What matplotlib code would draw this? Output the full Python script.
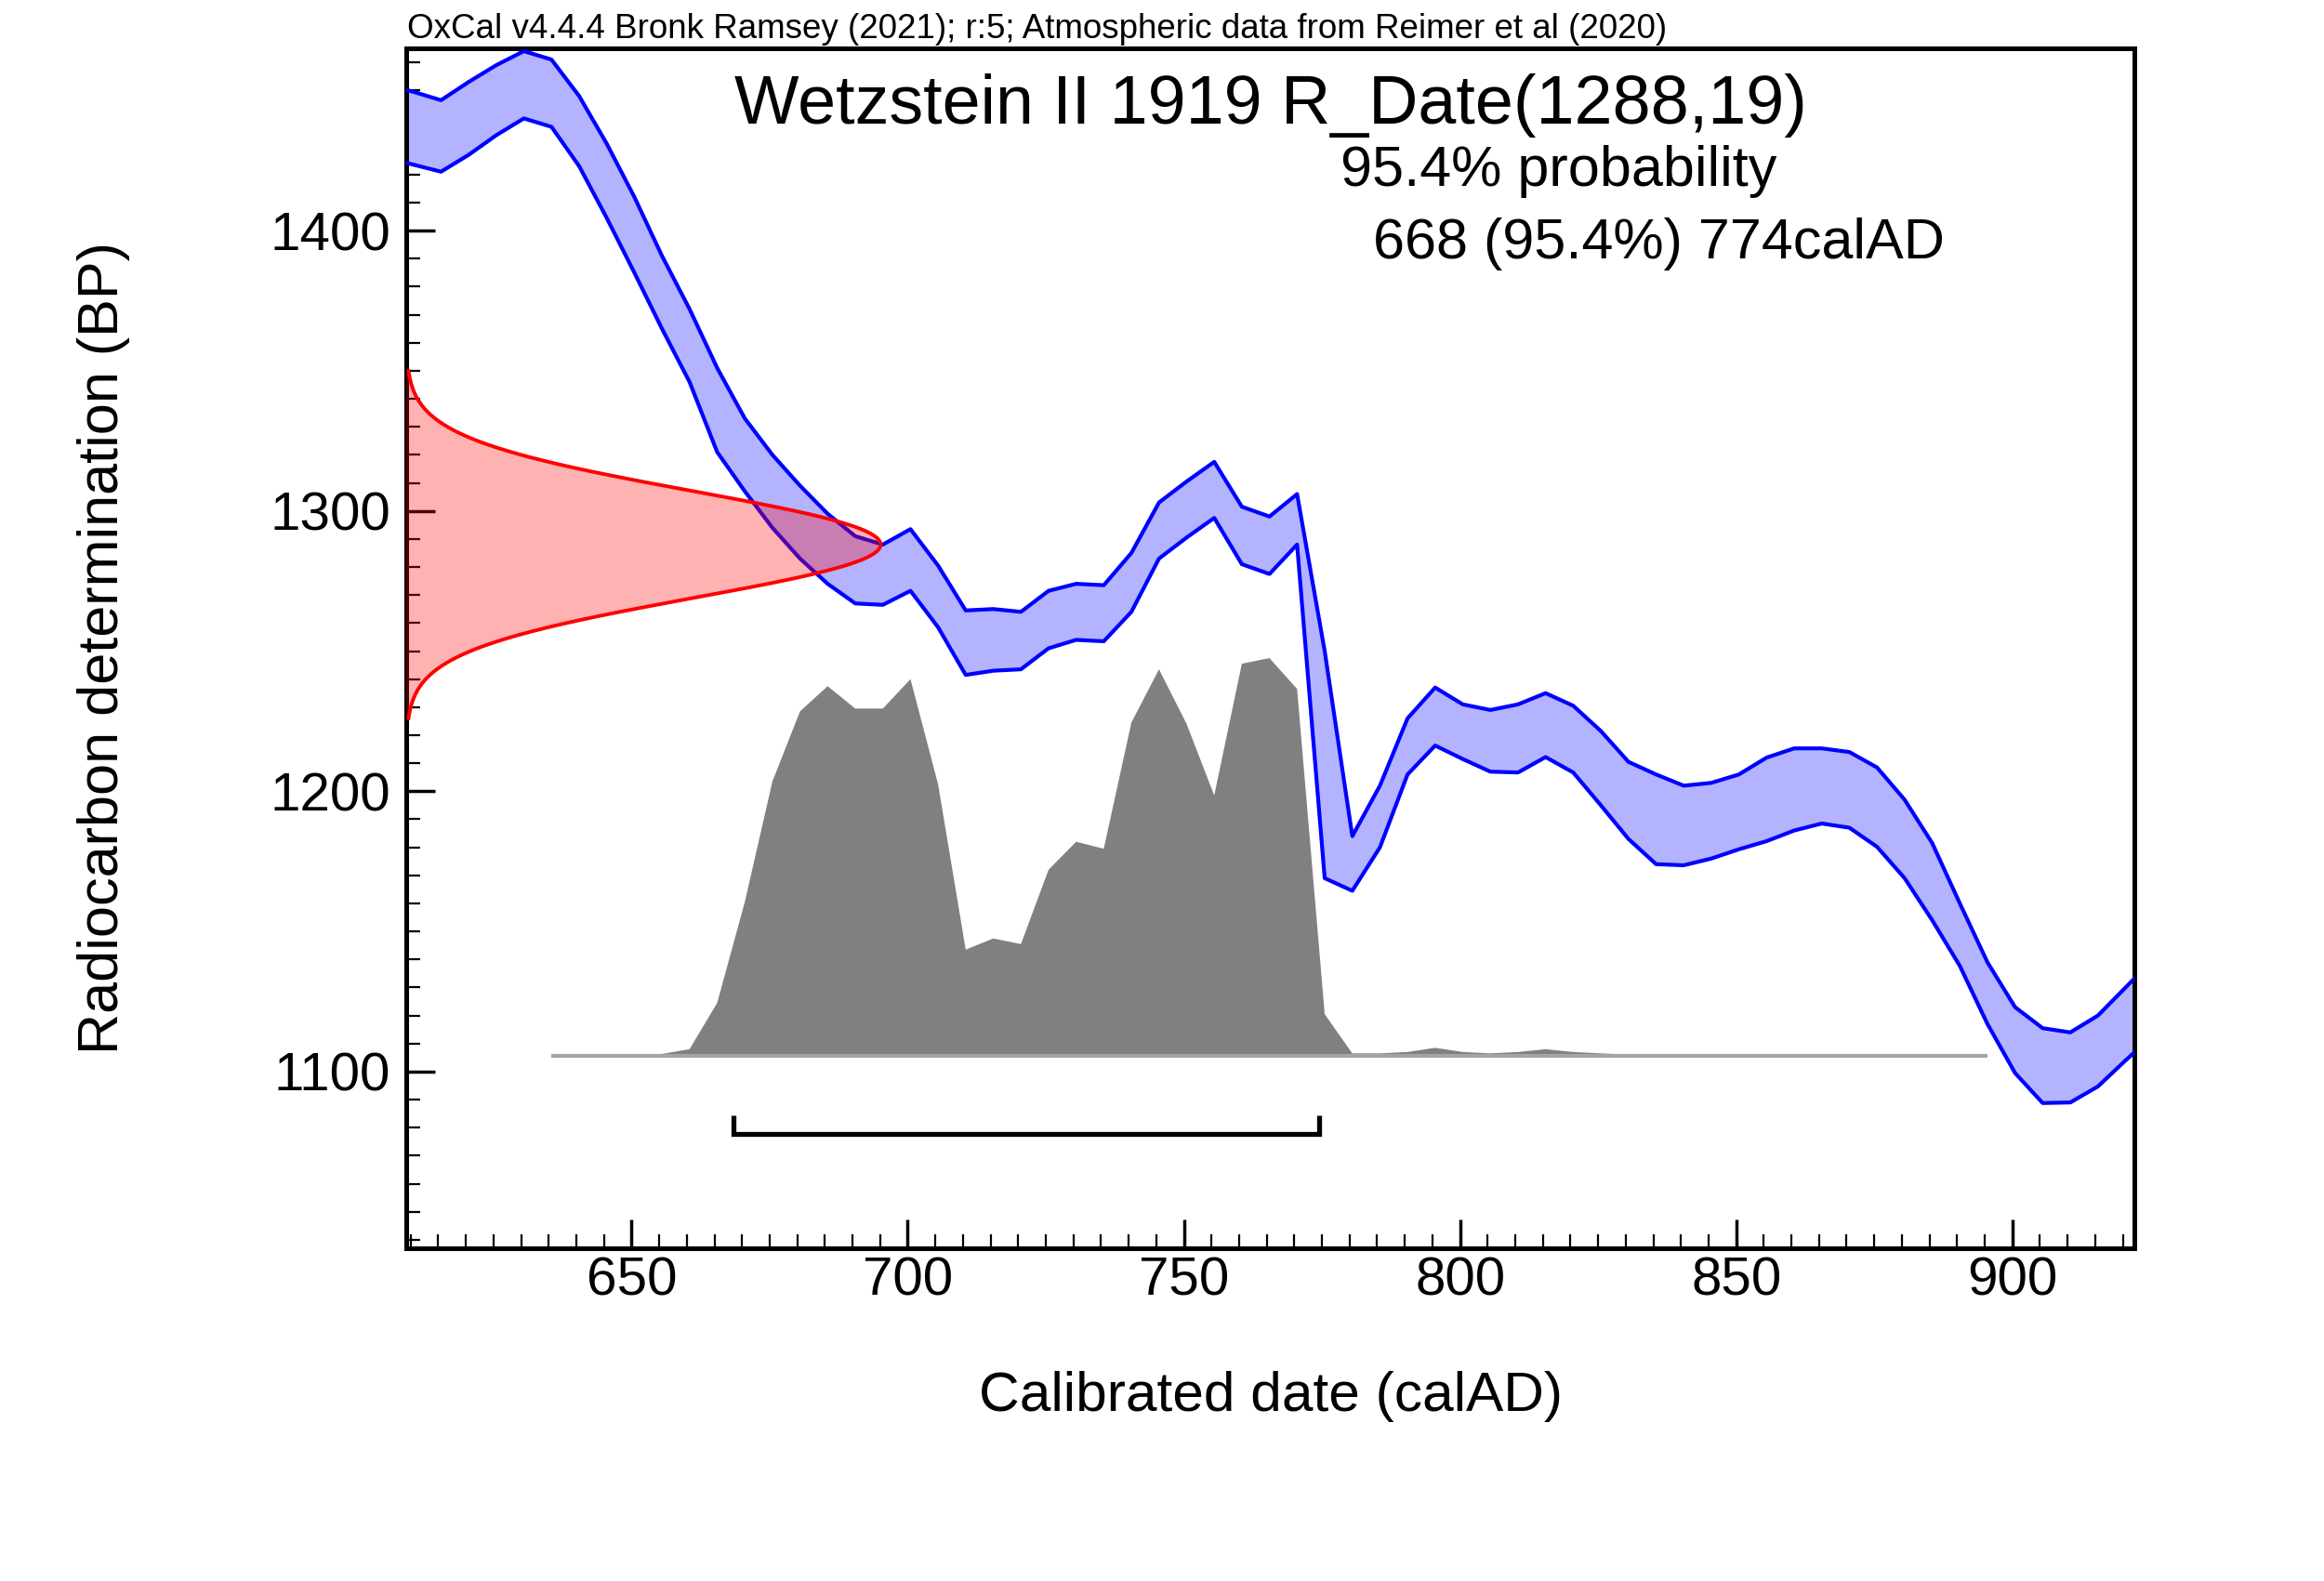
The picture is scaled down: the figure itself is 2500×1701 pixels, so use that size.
import numpy as np
import matplotlib
matplotlib.use("Agg")
import matplotlib.pyplot as plt
from matplotlib.ticker import MultipleLocator

plt.rcParams['font.family'] = ['Liberation Sans', 'DejaVu Sans']

# ---------------- data ----------------
# calibration curve nodes (calAD) and the +/- 1 sigma envelope (BP)
cal_years = np.arange(605.5, 926, 5)
curve_upper = [1452, 1449.5, 1446.5, 1453, 1459, 1464, 1461, 1448, 1431, 1412,
               1391, 1372, 1351, 1333, 1320, 1309, 1299, 1291, 1288, 1293.5,
               1280.5, 1264.5, 1265, 1264, 1271.5, 1274, 1273.5, 1285, 1303, 1310.5,
               1317.5, 1301.5, 1298, 1306, 1250, 1184, 1202, 1226, 1237, 1231,
               1229, 1231, 1235, 1230.5, 1221.5, 1210.5, 1206, 1202, 1203, 1206,
               1212, 1215.3, 1215.3, 1214, 1208.5, 1197, 1181.5, 1160, 1139, 1123,
               1115.5, 1114, 1120, 1130, 1140]
curve_lower = [1426, 1423.5, 1421, 1427, 1434, 1440, 1437, 1423, 1404.5, 1385,
               1365, 1346, 1321, 1307, 1294, 1283, 1274, 1267, 1266.5, 1271.5,
               1258.5, 1241.5, 1243, 1243.5, 1251, 1254, 1253.5, 1264, 1283, 1290.5,
               1297.5, 1281, 1277.5, 1288, 1169, 1164.5, 1180, 1206, 1216.3, 1211.5,
               1207, 1206.7, 1212.2, 1206.7, 1195, 1183, 1174, 1173.6, 1176, 1179.3,
               1182.2, 1186, 1188.5, 1187, 1180.2, 1169, 1154, 1137.7, 1117, 1099.5,
               1088.8, 1089, 1094.7, 1104, 1113]

# calibrated probability distribution (relative)
prob_years = np.arange(635.5, 896, 5)
prob_rel = [0, 0, 0.2, 0.4, 0.8, 2.5, 19, 55, 98, 123,
            132, 124, 124, 134.5, 97, 38, 42, 40, 66.5, 76.5,
            74, 119, 138, 118.5, 93, 140, 142, 131, 15, 1,
            1, 1.5, 3, 1.5, 1, 1.5, 2.5, 1.5, 1, 0.6,
            0.4, 0.3, 0.3, 0.3, 0.3, 0.3, 0.3, 0.3, 0.2, 0.2,
            0.2, 0.1, 0]

# radiocarbon date R_Date(1288,19)
c14_mean = 1288
c14_sd = 19

# 95.4% range
range_from = 668
range_to = 774

title = "Wetzstein II 1919 R_Date(1288,19)"
line1 = "95.4% probability"
line2 = "668 (95.4%) 774calAD"
header = "OxCal v4.4.4 Bronk Ramsey (2021); r:5; Atmospheric data from Reimer et al (2020)"

# ---------------- figure ----------------
W, H = 2500, 1701
fig = plt.figure(figsize=(25, 17.01), dpi=100)
fig.patch.set_facecolor('white')

def fx(px):
    return px / W

def fy(py):
    return 1 - py / H

ax_l, ax_r, ax_t, ax_b = 437, 2296, 52, 1343
ax = fig.add_axes([fx(ax_l), fy(ax_b), (ax_r - ax_l) / W, (ax_b - ax_t) / H])
xmin, xmax = 609.2, 922.1
ymin, ymax = 1037, 1465
ax.set_xlim(xmin, xmax)
ax.set_ylim(ymin, ymax)

# probability distribution (grey)
base = 1105.5
peak_height = 142
p = np.array(prob_rel, dtype=float)
ax.fill_between(prob_years, base, base + p / p.max() * peak_height,
                facecolor='#808080', edgecolor='none', zorder=1.5)
ax.plot([prob_years[0], prob_years[-1]], [base, base], color='#a4a4a4',
        lw=3, solid_capstyle='butt', zorder=1.6)

# calibration curve (blue band)
ax.fill_between(cal_years, curve_lower, curve_upper, facecolor='#b3b3ff',
                edgecolor='none', zorder=2)
ax.plot(cal_years, curve_upper, color='#0000ff', lw=3.0, zorder=3)
ax.plot(cal_years, curve_lower, color='#0000ff', lw=3.0, zorder=3)

# radiocarbon measurement (red normal distribution on y axis)
amp = 85.9
bp = np.linspace(c14_mean - 3.26 * c14_sd, c14_mean + 3.26 * c14_sd, 500)
width = amp * np.exp(-0.5 * ((bp - c14_mean) / c14_sd) ** 2)
ax.fill_betweenx(bp, xmin, xmin + width, facecolor=(1, 0, 0, 0.3),
                 edgecolor='none', zorder=4)
ax.plot(xmin + width, bp, color='#ff0000', lw=2.8, zorder=5)

# range bracket
yb, yt = 1077.7, 1084.5
ax.plot([range_from + 0.5, range_from + 0.5, range_to + 0.5, range_to + 0.5],
        [yt, yb, yb, yt], color='black', lw=3.8, solid_joinstyle='miter',
        solid_capstyle='butt', zorder=6)

# axes styling
for s in ax.spines.values():
    s.set_linewidth(3.6)
    s.set_color('black')
ax.xaxis.set_major_locator(MultipleLocator(50))
ax.xaxis.set_minor_locator(MultipleLocator(5))
ax.yaxis.set_major_locator(MultipleLocator(100))
ax.yaxis.set_minor_locator(MultipleLocator(10))
ax.tick_params(which='both', direction='in', top=False, right=False, colors='black')
ax.tick_params(which='major', length=22, width=2.5, labelsize=42)
ax.tick_params(which='minor', length=11, width=1.6)
ax.tick_params(axis='x', which='major', pad=6)
ax.tick_params(axis='y', which='major', pad=12)

ax.set_xlabel('Calibrated date (calAD)', fontsize=43.5, va='center')
ax.xaxis.set_label_coords(0.5, (ax_b - 1502) / (ax_b - ax_t))
ax.set_ylabel('Radiocarbon determination (BP)', fontsize=44, va='center')
ax.yaxis.set_label_coords((112 - ax_l) / (ax_r - ax_l), 0.5)

# texts
fig.text(fx(1367), fy(133), title, fontsize=53, ha='center', va='baseline')
fig.text(fx(1442), fy(200), line1, fontsize=44, ha='left', va='baseline')
fig.text(fx(1477), fy(278), line2, fontsize=44, ha='left', va='baseline')
fig.text(fx(438), fy(41), header, fontsize=26.5, ha='left', va='baseline')

fig.savefig('out.png', dpi=100, facecolor='white')
